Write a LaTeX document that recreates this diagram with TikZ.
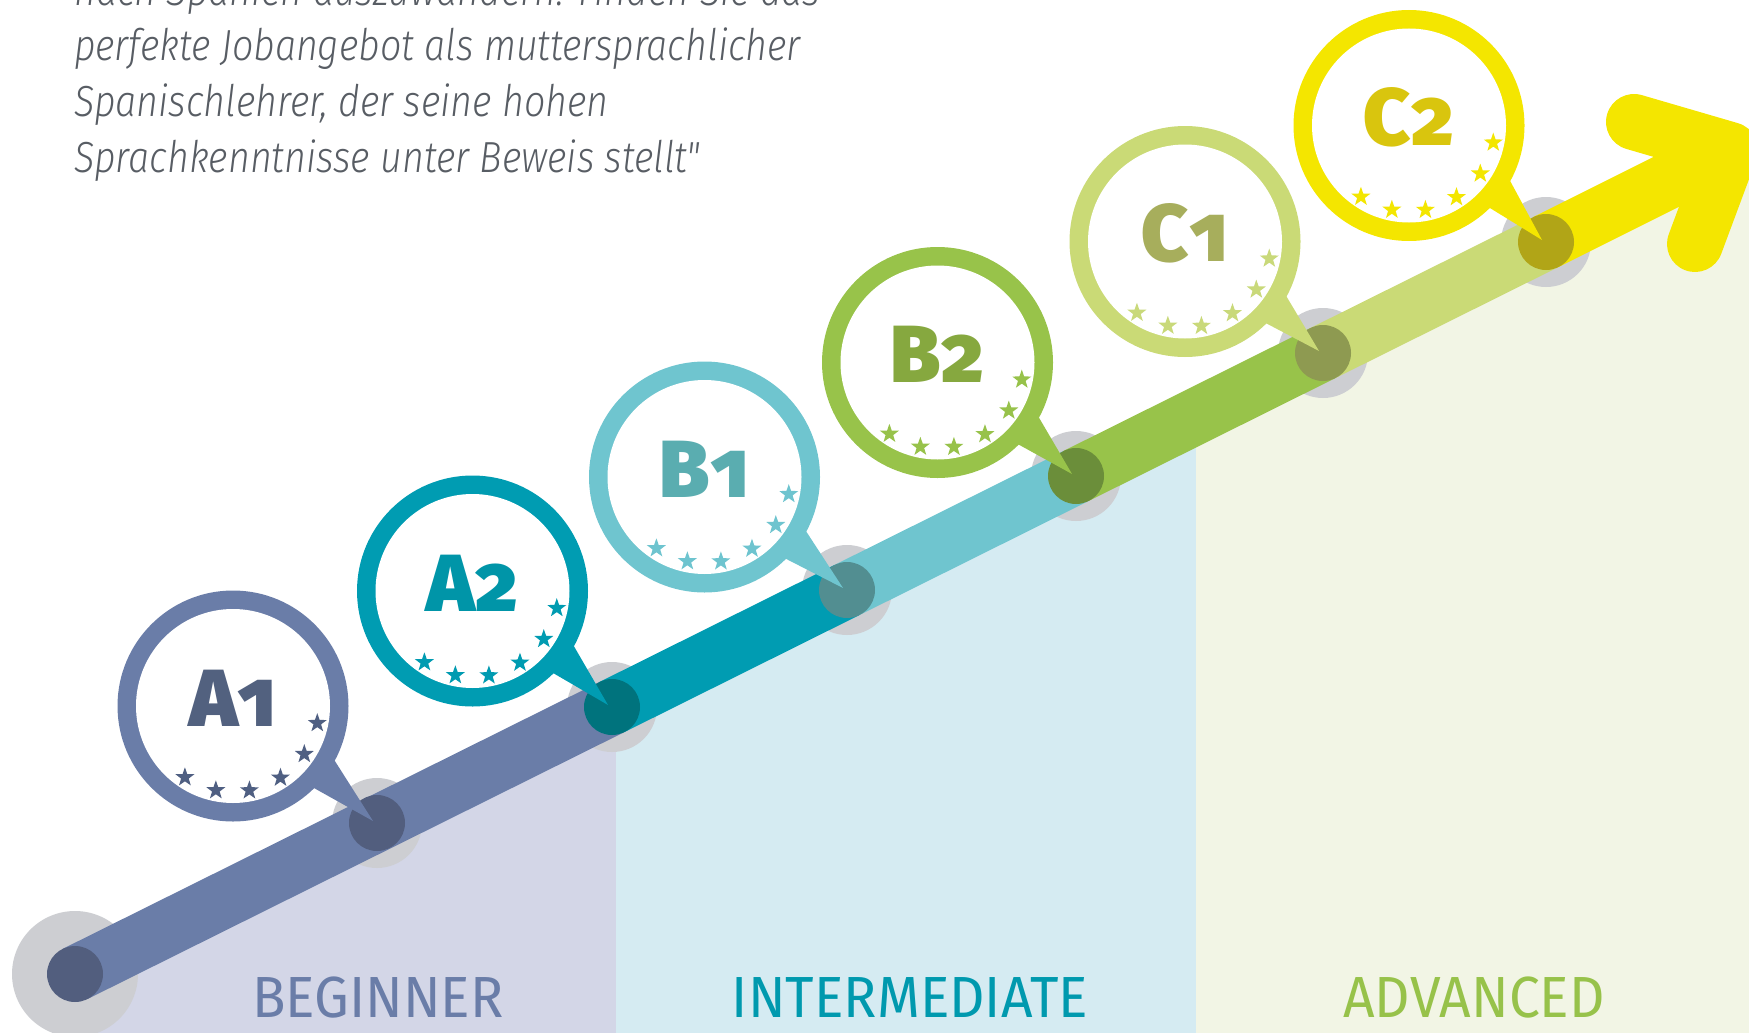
\documentclass[tikz,border=0pt]{standalone}
\usepackage{fontspec}
\usetikzlibrary{shapes.geometric,calc}
\newfontfamily\bodyfont{Fira Sans}[UprightFont=* Light, ItalicFont=* Light Italic, FakeStretch=0.865]
\newfontfamily\lvlfont{Fira Sans}[UprightFont=* Black, Numbers=OldStyle]
\newfontfamily\catfont{Fira Sans}[FakeStretch=0.95]
\definecolor{ringA1}{HTML}{6A7DA8}\definecolor{dotA1}{HTML}{525E7E}\definecolor{txtA1}{HTML}{52617F}\definecolor{starA1}{HTML}{4F5F82}
\definecolor{ringA2}{HTML}{009CB2}\definecolor{dotA2}{HTML}{00737D}\definecolor{txtA2}{HTML}{0095A8}\definecolor{starA2}{HTML}{009BB1}
\definecolor{ringB1}{HTML}{6FC5CF}\definecolor{dotB1}{HTML}{528E91}\definecolor{txtB1}{HTML}{5AADB0}\definecolor{starB1}{HTML}{6EC4CF}
\definecolor{ringB2}{HTML}{98C34A}\definecolor{dotB2}{HTML}{6B8E3A}\definecolor{txtB2}{HTML}{86A83F}\definecolor{starB2}{HTML}{97C24A}
\definecolor{ringC1}{HTML}{CADA76}\definecolor{dotC1}{HTML}{8E9A51}\definecolor{txtC1}{HTML}{A7AE5C}\definecolor{starC1}{HTML}{C9D97A}
\definecolor{ringC2}{HTML}{F4E600}\definecolor{dotC2}{HTML}{B1A517}\definecolor{txtC2}{HTML}{D9C50E}\definecolor{starC2}{HTML}{F3E600}
\definecolor{haloGray}{HTML}{CDCED2}
\definecolor{regBeg}{HTML}{D3D6E7}
\definecolor{regInt}{HTML}{D5EBF2}
\definecolor{regAdv}{HTML}{F2F5E5}
\definecolor{bodyGray}{HTML}{585D64}
\definecolor{catBeg}{HTML}{6A7DA8}
\definecolor{catInt}{HTML}{0099AE}
\definecolor{catAdv}{HTML}{97C24A}
\tikzset{
  bandline/.style={line width=56pt, line cap=butt},
  halo/.style={fill=haloGray},
  starshape/.style={star, star points=5, star point ratio=2.5, inner sep=0pt, minimum size=20pt, draw=none},
  lvltext/.style={inner sep=0pt, font=\lvlfont\fontsize{81}{81}\selectfont},
  cattext/.style={inner sep=0pt, font=\catfont\fontsize{58}{60}\selectfont},
  bodytext/.style={inner sep=0pt, anchor=base west, text=bodyGray, font=\bodyfont\itshape\fontsize{43.5}{55.5}\selectfont},
}
\begin{document}
\begin{tikzpicture}[x=1pt, y=-1pt]
\useasboundingbox (0,0) rectangle (1749,1033);
% coordinates
\coordinate (d0) at (75,974);
\foreach \n/\cx/\cy/\dx/\dy in {A1/233/706/377/823, A2/472.5/591/612/707, B1/704.5/477/847/590, B2/937.5/362.5/1076/476, C1/1185/241.5/1323/353, C2/1409/125.5/1546/242}{
  \coordinate (c\n) at (\cx,\cy);
  \coordinate (d\n) at (\dx,\dy);
}
\coordinate (tip) at (1730,150);
\coordinate (armL) at (1634,122);
\coordinate (armR) at (1695,244);
% background regions
\fill[regBeg] (75,974) -- (616,705) -- (616,1033) -- (75,1033) -- cycle;
\fill[regInt] (616,705) -- (1196,416) -- (1196,1033) -- (616,1033) -- cycle;
\fill[regAdv] (1196,416) -- (1749,141) -- (1749,1033) -- (1196,1033) -- cycle;
% halos
\fill[halo] (d0) circle[radius=63];
\foreach \n in {A1,A2,B1,B2,C1,C2}{\fill[halo] (d\n) circle[radius=45];}
% band
\draw[bandline, ringA1] (d0) -- (dA2);
\draw[bandline, ringA2] (dA2) -- (dB1);
\draw[bandline, ringB1] (dB1) -- (dB2);
\draw[bandline, ringB2] (dB2) -- (dC1);
\draw[bandline, ringC1] (dC1) -- (dC2);
\draw[bandline, ringC2] (dC2) -- (tip);
\draw[bandline, ringC2, line cap=round, line join=round] (armL) -- (tip) -- (armR);
% dots
\fill[dotA1] (d0) circle[radius=28];
\foreach \n in {A1,A2,B1,B2,C1,C2}{\fill[dot\n] (d\n) circle[radius=28];}
% bubbles
\foreach \n/\L/\D in {A1/A/1, A2/A/2, B1/B/1, B2/B/2, C1/C/1, C2/C/2}{
  \fill[ring\n] (c\n) circle[radius=115.5];
  \fill[ring\n] ($(c\n)+(25:105)$) -- ($(d\n)+(-4,-2)$) -- ($(c\n)+(47:105)$) -- cycle;
  \fill[white] (c\n) circle[radius=97];
  \node[lvltext, text=txt\n, anchor=base] (l\n) at ($(c\n)+(0,20)$) {\L\kern1pt\D};
  \foreach \a [count=\k] in {124,101.5,79,56.5,34,11.5}{
    \node[starshape, fill=star\n] (s\n\k) at ($(c\n)+(\a:86)$) {};
  }
}
% category labels
\node[cattext, text=catBeg, anchor=base] (beg) at (378,1017) {BEGINNER};
\node[cattext, text=catInt, anchor=base] (int) at (910,1017) {INTERMEDIATE};
\node[cattext, text=catAdv, anchor=base] (adv) at (1474,1017) {ADVANCED};
% body text
\node[bodytext] (t1) at (74,5.5) {nach Spanien auszuwandern. Finden Sie das};
\node[bodytext] (t2) at (74,61) {perfekte Jobangebot als muttersprachlicher};
\node[bodytext] (t3) at (74,116.5) {Spanischlehrer, der seine hohen};
\node[bodytext] (t4) at (74,172) {Sprachkenntnisse unter Beweis stellt"};
\end{tikzpicture}
\end{document}
